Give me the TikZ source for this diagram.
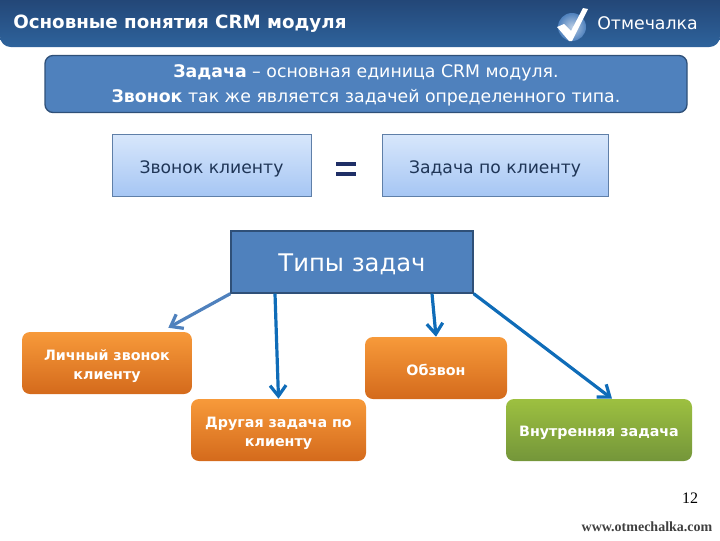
\documentclass[tikz,border=0pt]{standalone}
\usepackage{fontspec}
\usetikzlibrary{arrows.meta}
\setmainfont{DejaVu Sans}
\newfontfamily\sitefont{Liberation Serif}

\definecolor{headtop}{HTML}{1F3B68}
\definecolor{headbot}{HTML}{2E639C}
\definecolor{panelblue}{HTML}{4F81BD}
\definecolor{paneledge}{HTML}{2F5078}
\definecolor{boxtop}{HTML}{D8E7FB}
\definecolor{boxbot}{HTML}{A6C6F4}
\definecolor{boxedge}{HTML}{5F7FA8}
\definecolor{boxtext}{HTML}{1F3556}
\definecolor{equalnavy}{HTML}{1F2F66}
\definecolor{arrowblue}{HTML}{0F6CB8}
\definecolor{orangetop}{HTML}{F79A3A}
\definecolor{orangebot}{HTML}{D46A1C}
\definecolor{greentop}{HTML}{9DC040}
\definecolor{greenbot}{HTML}{74963A}

\newcommand{\lowtext}[2]{\raisebox{-#1}[0pt][0pt]{#2}}

\tikzset{
  lightbox/.style={draw=boxedge,top color=boxtop,bottom color=boxbot,
    text=boxtext,font=\fontsize{12.9}{15}\selectfont,inner sep=0pt},
  typebox/.style={rounded corners=6pt,text=white,align=center,inner sep=0pt,
    font=\fontsize{10.7}{14.4}\selectfont\bfseries},
  orangebox/.style={typebox,top color=orangetop,bottom color=orangebot},
  greenbox/.style={typebox,top color=greentop,bottom color=greenbot},
  typearrow/.style={draw=arrowblue,line width=2.4pt,-{Straight Barb[length=8pt,width=12pt]}},
}

\begin{document}
\begin{tikzpicture}[x=0.75pt,y=-0.75pt]
  \useasboundingbox (0,0) rectangle (720,540);

  % header
  \shade[top color=headtop,bottom color=headbot,rounded corners=8pt]
    (0,-20) -- (0,47) -- (720,47) -- (720,-20) -- cycle;
  \node[anchor=west,text=white,inner sep=0pt,font=\fontsize{13.7}{16}\selectfont\bfseries]
    (title) at (13,24) {Основные понятия CRM модуля};
  \node[anchor=west,text=white,inner sep=0pt,font=\fontsize{13}{16}\selectfont]
    (brand) at (597,23) {Отмечалка};

  % logo
  \shade[inner color=white!60!panelblue,outer color=panelblue] (572,27) circle (14);
  \fill[white] (557,27) -- (564,24) -- (571,31) -- (583,8) -- (588,9) -- (572,41) -- (569,41) -- cycle;

  % panel
  \node[draw=paneledge,fill=panelblue,line width=1pt,rounded corners=6pt,
    minimum width=642*0.75pt,minimum height=57*0.75pt,inner sep=0pt,
    text=white,align=center,font=\fontsize{13}{18.6}\selectfont]
    (panel) at (366,84) {\rule{0pt}{12pt}\textbf{Задача} – основная единица CRM модуля.\\
      \textbf{Звонок} так же является задачей определенного типа.};

  % equal boxes
  \node[lightbox,minimum width=199*0.75pt,minimum height=62*0.75pt] (call) at (211.5,165) {\lowtext{6.6pt}{Звонок клиенту}};
  \node[lightbox,minimum width=226*0.75pt,minimum height=62*0.75pt] (task) at (495,165) {\lowtext{6.6pt}{Задача по клиенту}};
  \node[fill=equalnavy,minimum width=20*0.75pt,minimum height=3pt,inner sep=0pt] (equalup) at (346,163.5) {};
  \node[fill=equalnavy,minimum width=20*0.75pt,minimum height=3pt,inner sep=0pt] (equaldown) at (346,174) {};

  % types
  \node[draw=paneledge,fill=panelblue,line width=1pt,minimum width=242*0.75pt,
    minimum height=62*0.75pt,inner sep=0pt,text=white,font=\fontsize{18.2}{24}\selectfont]
    (types) at (352,262) {\lowtext{7pt}{Типы задач}};

  \node[orangebox,minimum width=170*0.75pt,minimum height=62*0.75pt] (personal) at (107,363) {\rule{0pt}{12.5pt}Личный звонок\\клиенту};
  \node[orangebox,minimum width=175*0.75pt,minimum height=62*0.75pt] (other) at (278.5,430) {\rule{0pt}{12.5pt}Другая задача по\\клиенту};
  \node[orangebox,minimum width=142*0.75pt,minimum height=62*0.75pt] (dialing) at (436,368) {\rule{0pt}{12pt}Обзвон};
  \node[greenbox,minimum width=186*0.75pt,minimum height=62*0.75pt] (internal) at (599,430) {\rule{0pt}{12pt}Внутренняя задача};

  % arrows
  \draw[typearrow,draw=panelblue] (types.south west) -- ([xshift=46pt,yshift=3pt]personal.north);
  \draw[typearrow] ([xshift=-77*0.75pt]types.south) -- (other.north);
  \draw[typearrow] ([xshift=80*0.75pt]types.south) -- (dialing.north);
  \draw[typearrow] (types.south east) -- ([xshift=13*0.75pt]internal.north);

  % footer
  \node[inner sep=0pt,font=\fontsize{12}{14}\selectfont\sitefont] (page) at (690,498) {12};
  \node[inner sep=0pt,font=\fontsize{10.5}{12}\selectfont\sitefont\bfseries,text=black!75] (site) at (647,527) {www.otmechalka.com};
\end{tikzpicture}
\end{document}
